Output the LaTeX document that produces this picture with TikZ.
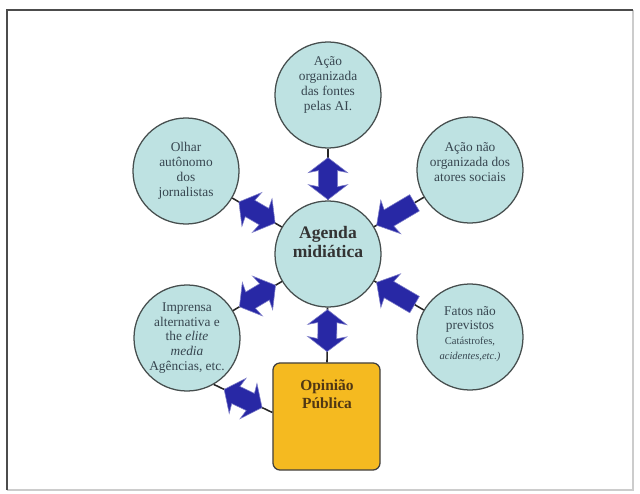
\documentclass[tikz,border=0pt]{standalone}
\usepackage{fontspec}
\setmainfont{Liberation Serif}
\usetikzlibrary{shapes.arrows}
\definecolor{circfill}{RGB}{190,226,226}
\definecolor{circline}{RGB}{70,78,78}
\definecolor{arrblue}{RGB}{40,40,165}
\definecolor{boxfill}{RGB}{245,186,32}
\definecolor{txtgray}{RGB}{55,70,80}
\definecolor{txtbrown}{RGB}{80,55,20}
\tikzset{
  topic/.style={draw=circline, line width=0.9pt, fill=circfill, circle,
    minimum size=2.65cm, inner sep=0pt, align=center, text=txtgray,
    font=\fontsize{9.5}{10.6}\selectfont},
  caption/.style={align=center, inner sep=0pt, text=txtgray,
    font=\fontsize{9.5}{10.6}\selectfont},
  link/.style={draw=black!85, line width=1.1pt},
  twoway/.style={double arrow, fill=arrblue, draw=arrblue!60, line width=0.4pt,
    minimum height=1.05cm, inner xsep=0pt, inner ysep=0.23cm,
    double arrow head extend=0.25cm, double arrow head indent=0.05cm,
    double arrow tip angle=105, sloped, allow upside down},
  oneway/.style={single arrow, fill=arrblue, draw=arrblue!60, line width=0.4pt,
    minimum height=1.1cm, inner xsep=0pt, inner ysep=0.23cm,
    single arrow head extend=0.25cm, single arrow head indent=0.05cm,
    single arrow tip angle=100, sloped, allow upside down}
}
\begin{document}
\begin{tikzpicture}[x=0.025cm, y=-0.025cm]
\useasboundingbox (0,0) rectangle (640,494);
% frame
\draw[black!20, line width=0.8pt] (633,10) -- (633,490) -- (7,490);
\draw[black!70, line width=1.3pt] (7,490) -- (7,10) -- (633,10);

% circles and box
\node[topic] (acao) at (328,95) {};
\node[caption] (acao-txt) at (328,85) {Ação\\organizada\\das fontes\\pelas AI.};
\node[topic] (olhar) at (186,171) {Olhar\\autônomo\\dos\\jornalistas};
\node[topic] (acaonao) at (470,170) {};
\node[caption] (acaonao-txt) at (470,162) {Ação não\\organizada dos\\atores sociais};
\node[topic] (agenda) at (328,254) {};
\node[caption, text=black!80, font=\fontsize{12.5}{14}\selectfont\bfseries] (agenda-txt) at (328,242) {Agenda\\midiática};
\node[topic] (imprensa) at (187,338) {Imprensa\\alternativa e\\the \textit{elite}\\\textit{media}\\Agências, etc.};
\node[topic] (fatos) at (470,337) {};
\node[caption] (fatos-txt) at (470,334) {Fatos não\\previstos\\{\fontsize{7.5}{9}\selectfont Catástrofes,}\\{\fontsize{7.5}{9}\selectfont\itshape acidentes,etc.)}};
\node[draw=black!75, line width=0.9pt, fill=boxfill, rounded corners=5pt,
  minimum size=2.675cm, inner sep=0pt] (box) at (326.5,416.5) {};
\node[caption, text=txtbrown, font=\fontsize{11}{13}\selectfont\bfseries] (box-txt) at (327,394) {Opinião\\Pública};

% connectors with block arrows
\draw[link] (acao) -- node[twoway, pos=0.58] {} (agenda);
\draw[link] (agenda) -- node[twoway, pos=0.42] {} (box);
\draw[link] (olhar) -- node[twoway] {} (agenda);
\draw[link] (imprensa) -- node[twoway] {} (agenda);
\draw[link] (acaonao) -- node[oneway] {} (agenda);
\draw[link] (fatos) -- node[oneway] {} (agenda);
\draw[link] (imprensa.-60) -- node[twoway] {} ([yshift=0.1cm]box.west);
\end{tikzpicture}
\end{document}
